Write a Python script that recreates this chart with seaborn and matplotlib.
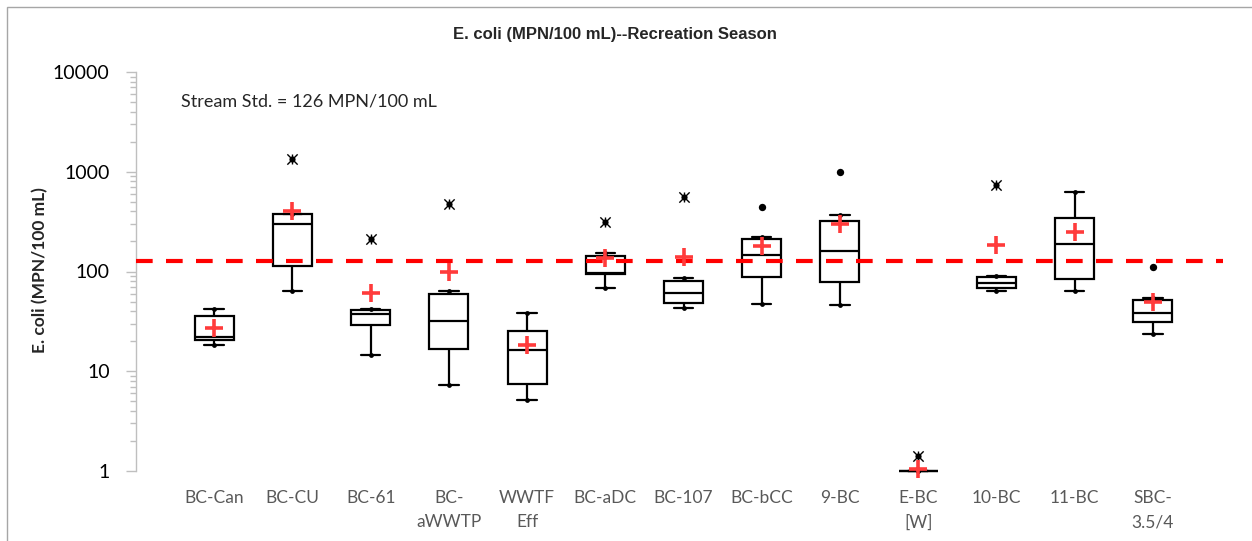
import numpy as np
import pandas as pd
import matplotlib.pyplot as plt
import matplotlib.patches as mpatches
import matplotlib.ticker as mticker
from matplotlib.lines import Line2D
import seaborn as sns

# box statistics (MPN/100 mL)
sites = ["BC-Can", "BC-CU", "BC-61", "BC-\naWWTP", "WWTF\nEff", "BC-aDC", "BC-107",
         "BC-bCC", "9-BC", "E-BC\n[W]", "10-BC", "11-BC", "SBC-\n3.5/4"]
whisker_low = [18.3, 63.8, 14.5, 7.3, 5.2, 67.8, 42.8, 46.9, 46.5, 1.0, 63.3, 64.2, 23.5]
q1 = [20.4, 114, 29.1, 16.8, 7.5, 95.1, 48.0, 87.5, 78.5, 1.0, 68.3, 84.7, 31.4]
median = [22.2, 301, 37.2, 32.1, 16.2, 97.3, 60.9, 146, 162, 1.0, 77.3, 187, 38.4]
q3 = [36.0, 377, 41.1, 59.0, 25.3, 142, 80.3, 213, 323, 1.0, 88.1, 347, 51.4]
whisker_high = [41.8, 377, 42.1, 63.8, 38.4, 153, 86.7, 223, 369, 1.0, 90.8, 627, 53.8]
means = [27.0, 407, 61.3, 99.6, 18.2, 137.6, 141, 181.5, 297, 1.04, 184.5, 251, 49.1]

# extreme outliers (stars) and outliers (dots)
star_sites = ["BC-CU", "BC-61", "BC-\naWWTP", "BC-aDC", "BC-107", "E-BC\n[W]", "10-BC"]
star_values = [1333, 213, 471, 311, 558, 1.41, 736]
dot_sites = ["BC-bCC", "9-BC", "SBC-\n3.5/4"]
dot_values = [443, 1001, 110]

stream_std = 126

rows = []
for i, s in enumerate(sites):
    for v in (whisker_low[i], q1[i], median[i], q3[i], whisker_high[i]):
        rows.append({"site": s, "value": v})
df = pd.DataFrame(rows)

sns.set_theme(style="white")
plt.rcParams['font.family'] = ['Lato', 'DejaVu Sans']

fig = plt.figure(figsize=(12.52, 5.41), dpi=100)
ax = fig.add_axes([136 / 1252, 70 / 541, 1095 / 1252, 399 / 541])
ax.set_yscale('log')

sns.boxplot(data=df, x="site", y="value", order=sites, whis=(0, 100), width=0.5,
            color="white", linecolor="black", linewidth=1.6, showfliers=False, ax=ax)

pos = np.arange(len(sites))
sns.scatterplot(x=np.concatenate([pos, pos]), y=whisker_low + whisker_high,
                color="black", s=12, linewidth=0, zorder=4, ax=ax)

ax.plot([-1, 12.9], [stream_std, stream_std], color="#ff0000", linewidth=3,
        dashes=(4, 3.2), zorder=5)

star_pos = [sites.index(s) for s in star_sites]
dot_pos = [sites.index(s) for s in dot_sites]
# asterisk-like star: x + vertical bar + filled centre
sns.scatterplot(x=star_pos, y=star_values, marker="x", s=55, linewidth=1.0,
                color="black", zorder=6, ax=ax)
sns.scatterplot(x=star_pos, y=star_values, marker="|", s=55, linewidth=1.0,
                color="black", zorder=6, ax=ax)
sns.scatterplot(x=star_pos, y=star_values, marker="o", s=20, linewidth=0,
                color="black", zorder=6, ax=ax)
sns.scatterplot(x=dot_pos, y=dot_values, marker="o", s=28, linewidth=0,
                color="black", zorder=6, ax=ax)

sns.scatterplot(x=pos, y=means, marker="+", s=160, linewidth=2.6,
                color="#ff3b3b", zorder=7, ax=ax)

for art in ax.get_children():
    if isinstance(art, (Line2D, mpatches.Patch)) or hasattr(art, "get_offsets"):
        art.set_clip_on(False)

ax.set_xlim(-1, 13)
ax.set_ylim(1, 10000)
ax.set_xlabel("")
ax.set_ylabel("")
if ax.get_legend() is not None:
    ax.get_legend().remove()

for side in ["top", "right", "bottom"]:
    ax.spines[side].set_visible(False)
ax.spines["left"].set_color("#bfbfbf")
ax.spines["left"].set_linewidth(1)

ax.yaxis.set_major_locator(mticker.LogLocator(base=10))
ax.yaxis.set_minor_locator(mticker.LogLocator(base=10, subs=np.arange(2, 10)))
ax.yaxis.set_major_formatter(mticker.FuncFormatter(lambda v, p: f"{v:g}"))
ax.yaxis.set_minor_formatter(mticker.NullFormatter())
ax.tick_params(axis="y", which="major", direction="out", length=7, width=1,
               color="#bfbfbf", labelsize=14, labelcolor="black", pad=12, left=True)
ax.tick_params(axis="y", which="minor", direction="out", length=4, width=1,
               color="#bfbfbf", left=True)
ax.tick_params(axis="x", length=0, labelsize=12.5, labelcolor="#595959", pad=14)
for lbl in ax.get_xticklabels():
    lbl.set_linespacing(1.6)

fig.text(615 / 1252, 1 - 35 / 541, "E. coli (MPN/100 mL)--Recreation Season",
         ha="center", va="center", fontsize=12, fontweight="bold",
         family="Liberation Sans")
fig.text(40 / 1252, 1 - 270 / 541, "E. coli (MPN/100 mL)", rotation=90,
         ha="center", va="center", fontsize=12.5, fontweight="bold")
fig.text(181 / 1252, 1 - 102 / 541, "Stream Std. = 126 MPN/100 mL",
         ha="left", va="center", fontsize=13, color="#262626")

fig.add_artist(mpatches.Rectangle((7 / 1252, -0.1), 1.2, 534 / 541 + 0.1,
                                  transform=fig.transFigure, fill=False,
                                  edgecolor="#a6a6a6", linewidth=1))

fig.savefig("out.png", dpi=100)
